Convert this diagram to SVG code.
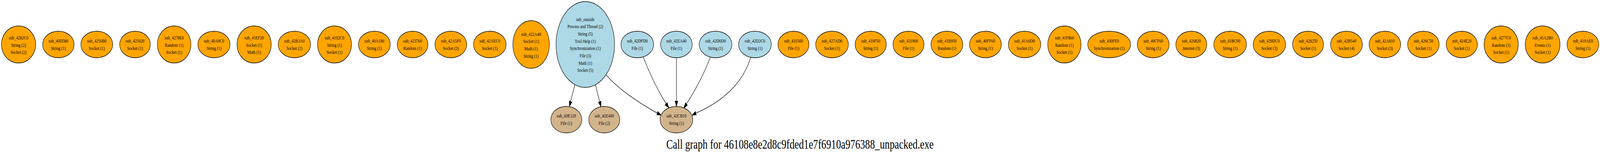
<svg xmlns="http://www.w3.org/2000/svg" width="5522" height="405" viewBox="0 0 5522 405" preserveAspectRatio="none">
<style>
svg{width:100vw;height:405px}
.n ellipse{stroke:#000;stroke-width:1.4}
.o ellipse{fill:#ffa500}
.b ellipse{fill:#add8e6}
.t ellipse{fill:#d2b48c}
text{font-family:"Liberation Serif","Times New Roman",serif;font-size:13.33px;font-style:normal;text-anchor:middle;fill:#000}
.title{font-size:34px}
#edges path{fill:none;stroke:#000;stroke-width:1.4}
#edges polygon{fill:#000;stroke:#000;stroke-width:1.4}
</style>
<rect x="0" y="0" width="5522" height="405" fill="#fff"/>
<g id="edges">
<path d="M1984,217 L1969.3,260.4"/><polygon points="1965,273 1973.7,261.9 1964.9,258.9"/>
<path d="M2055,217 L2069.7,260.9"/><polygon points="2074,273 2074.2,259.4 2065.3,262.4"/>
<path d="M2092,192 C2138,231.4 2213.2,267.2 2268.7,290"/><polygon points="2281,295 2266.9,294.3 2270.5,285.7"/>
<path d="M2220,146 C2240,185 2265,225 2299,266.2"/><polygon points="2308,276 2302.4,263 2295.6,269.4"/>
<path d="M2334.5,148.5 L2334.5,259.4"/><polygon points="2334.5,272.7 2339.2,259.4 2329.8,259.4"/>
<path d="M2452,146 C2432,185 2405,225 2369,266.6"/><polygon points="2360,277 2372.4,269.8 2365.6,263.4"/>
<path d="M2591,147 C2565,210 2500,258 2401.4,290.1"/><polygon points="2389,295 2403.1,294.4 2399.7,285.8"/>
</g>
<g id="sub_4282C0" class="n o"><ellipse cx="64" cy="114" rx="59" ry="47.5"/><text x="64" y="101">sub_4282C0</text><text x="64" y="119.7">String (2)</text><text x="64" y="138.4">Socket (2)</text></g>
<g id="sub_40D580" class="n o"><ellipse cx="201.5" cy="114" rx="54.5" ry="34"/><text x="201.5" y="109.5">sub_40D580</text><text x="201.5" y="128.2">String (1)</text></g>
<g id="sub_4256B0" class="n o"><ellipse cx="334" cy="114" rx="55" ry="34"/><text x="334" y="109.5">sub_4256B0</text><text x="334" y="128.2">Socket (1)</text></g>
<g id="sub_425020" class="n o"><ellipse cx="466" cy="114" rx="53" ry="34"/><text x="466" y="109.5">sub_425020</text><text x="466" y="128.2">Socket (1)</text></g>
<g id="sub_4270E0" class="n o"><ellipse cx="601" cy="114" rx="58" ry="47.5"/><text x="601" y="101">sub_4270E0</text><text x="601" y="119.7">Random (1)</text><text x="601" y="138.4">Socket (1)</text></g>
<g id="sub_40A0C0" class="n o"><ellipse cx="738.5" cy="114" rx="55.5" ry="34"/><text x="738.5" y="109.5">sub_40A0C0</text><text x="738.5" y="128.2">String (1)</text></g>
<g id="sub_41EF30" class="n o"><ellipse cx="877" cy="114" rx="59" ry="47.5"/><text x="877" y="101">sub_41EF30</text><text x="877" y="119.7">Socket (1)</text><text x="877" y="138.4">Math (1)</text></g>
<g id="sub_42B3A0" class="n o"><ellipse cx="1016" cy="114" rx="56" ry="34"/><text x="1016" y="109.5">sub_42B3A0</text><text x="1016" y="128.2">Socket (2)</text></g>
<g id="sub_4192C0" class="n o"><ellipse cx="1154.5" cy="114" rx="58.5" ry="47.5"/><text x="1154.5" y="101">sub_4192C0</text><text x="1154.5" y="119.7">String (1)</text><text x="1154.5" y="138.4">Socket (1)</text></g>
<g id="sub_40A180" class="n o"><ellipse cx="1292" cy="114" rx="55" ry="34"/><text x="1292" y="109.5">sub_40A180</text><text x="1292" y="128.2">String (1)</text></g>
<g id="sub_423760" class="n o"><ellipse cx="1424" cy="114" rx="53" ry="34"/><text x="1424" y="109.5">sub_423760</text><text x="1424" y="128.2">Random (1)</text></g>
<g id="sub_42A5F0" class="n o"><ellipse cx="1556" cy="114" rx="55" ry="34"/><text x="1556" y="109.5">sub_42A5F0</text><text x="1556" y="128.2">Socket (3)</text></g>
<g id="sub_42AEC0" class="n o"><ellipse cx="1690.5" cy="114" rx="56.5" ry="34"/><text x="1690.5" y="109.5">sub_42AEC0</text><text x="1690.5" y="128.2">Socket (1)</text></g>
<g id="sub_422A40" class="n o"><ellipse cx="1833" cy="114" rx="63" ry="61"/><text x="1833" y="91.7">sub_422A40</text><text x="1833" y="110.4">Socket (1)</text><text x="1833" y="129">Math (1)</text><text x="1833" y="147.7">String (1)</text></g>
<g id="sub_outside" class="n b"><ellipse cx="2020" cy="114" rx="101" ry="110"/><text x="2020" y="53.6">sub_outside</text><text x="2020" y="72.3">Process and Thread (2)</text><text x="2020" y="91">String (5)</text><text x="2020" y="109.6">Tool Help (1)</text><text x="2020" y="128.3">Synchronization (1)</text><text x="2020" y="147">File (3)</text><text x="2020" y="165.7">Math (1)</text><text x="2020" y="184.4">Socket (5)</text></g>
<g id="sub_42DFD0" class="n b"><ellipse cx="2199.5" cy="114" rx="56.5" ry="34"/><text x="2199.5" y="109.5">sub_42DFD0</text><text x="2199.5" y="128.2">File (1)</text></g>
<g id="sub_42EA40" class="n b"><ellipse cx="2334.5" cy="114" rx="54.5" ry="34"/><text x="2334.5" y="109.5">sub_42EA40</text><text x="2334.5" y="128.2">File (1)</text></g>
<g id="sub_42D0D0" class="n b"><ellipse cx="2469.5" cy="114" rx="56.5" ry="34"/><text x="2469.5" y="109.5">sub_42D0D0</text><text x="2469.5" y="128.2">String (1)</text></g>
<g id="sub_42D2C0" class="n b"><ellipse cx="2605.5" cy="114" rx="56.5" ry="34"/><text x="2605.5" y="109.5">sub_42D2C0</text><text x="2605.5" y="128.2">String (1)</text></g>
<g id="sub_431560" class="n o"><ellipse cx="2738.5" cy="114" rx="53.5" ry="34"/><text x="2738.5" y="109.5">sub_431560</text><text x="2738.5" y="128.2">File (1)</text></g>
<g id="sub_427AD0" class="n o"><ellipse cx="2871.5" cy="114" rx="56.5" ry="34"/><text x="2871.5" y="109.5">sub_427AD0</text><text x="2871.5" y="128.2">Socket (1)</text></g>
<g id="sub_419F50" class="n o"><ellipse cx="3005" cy="114" rx="54" ry="34"/><text x="3005" y="109.5">sub_419F50</text><text x="3005" y="128.2">String (1)</text></g>
<g id="sub_431900" class="n o"><ellipse cx="3135.5" cy="114" rx="53.5" ry="34"/><text x="3135.5" y="109.5">sub_431900</text><text x="3135.5" y="128.2">File (1)</text></g>
<g id="sub_41B950" class="n o"><ellipse cx="3268" cy="114" rx="55" ry="34"/><text x="3268" y="109.5">sub_41B950</text><text x="3268" y="128.2">Random (1)</text></g>
<g id="sub_40FF60" class="n o"><ellipse cx="3401" cy="114" rx="55" ry="34"/><text x="3401" y="109.5">sub_40FF60</text><text x="3401" y="128.2">String (1)</text></g>
<g id="sub_41A6D0" class="n o"><ellipse cx="3536" cy="114" rx="56" ry="34"/><text x="3536" y="109.5">sub_41A6D0</text><text x="3536" y="128.2">Socket (1)</text></g>
<g id="sub_41F860" class="n o"><ellipse cx="3673.5" cy="114" rx="57.5" ry="47.5"/><text x="3673.5" y="101">sub_41F860</text><text x="3673.5" y="119.7">Random (1)</text><text x="3673.5" y="138.4">Socket (1)</text></g>
<g id="sub_430FE0" class="n o"><ellipse cx="3828" cy="114" rx="74" ry="34"/><text x="3828" y="109.5">sub_430FE0</text><text x="3828" y="128.2">Synchronization (1)</text></g>
<g id="sub_40CF60" class="n o"><ellipse cx="3980" cy="114" rx="55" ry="34"/><text x="3980" y="109.5">sub_40CF60</text><text x="3980" y="128.2">String (1)</text></g>
<g id="sub_426820" class="n o"><ellipse cx="4111.5" cy="114" rx="53.5" ry="34"/><text x="4111.5" y="109.5">sub_426820</text><text x="4111.5" y="128.2">Internet (3)</text></g>
<g id="sub_41BC90" class="n o"><ellipse cx="4245.5" cy="114" rx="56.5" ry="34"/><text x="4245.5" y="109.5">sub_41BC90</text><text x="4245.5" y="128.2">String (1)</text></g>
<g id="sub_429DC0" class="n o"><ellipse cx="4381" cy="114" rx="56" ry="34"/><text x="4381" y="109.5">sub_429DC0</text><text x="4381" y="128.2">Socket (3)</text></g>
<g id="sub_428250" class="n o"><ellipse cx="4514.5" cy="114" rx="53.5" ry="34"/><text x="4514.5" y="109.5">sub_428250</text><text x="4514.5" y="128.2">Socket (1)</text></g>
<g id="sub_42B540" class="n o"><ellipse cx="4647" cy="114" rx="55" ry="34"/><text x="4647" y="109.5">sub_42B540</text><text x="4647" y="128.2">Socket (4)</text></g>
<g id="sub_42A810" class="n o"><ellipse cx="4779.5" cy="114" rx="54.5" ry="34"/><text x="4779.5" y="109.5">sub_42A810</text><text x="4779.5" y="128.2">Socket (3)</text></g>
<g id="sub_426C50" class="n o"><ellipse cx="4912.5" cy="114" rx="54.5" ry="34"/><text x="4912.5" y="109.5">sub_426C50</text><text x="4912.5" y="128.2">Socket (1)</text></g>
<g id="sub_424E20" class="n o"><ellipse cx="5045" cy="114" rx="54" ry="34"/><text x="5045" y="109.5">sub_424E20</text><text x="5045" y="128.2">Socket (1)</text></g>
<g id="sub_4277C0" class="n o"><ellipse cx="5181" cy="114" rx="59" ry="47.5"/><text x="5181" y="101">sub_4277C0</text><text x="5181" y="119.7">Random (1)</text><text x="5181" y="138.4">Socket (1)</text></g>
<g id="sub_41A2B0" class="n o"><ellipse cx="5324" cy="114" rx="60" ry="47.5"/><text x="5324" y="101">sub_41A2B0</text><text x="5324" y="119.7">Events (1)</text><text x="5324" y="138.4">Socket (1)</text></g>
<g id="sub_419AE0" class="n o"><ellipse cx="5463" cy="114" rx="55" ry="34"/><text x="5463" y="109.5">sub_419AE0</text><text x="5463" y="128.2">String (1)</text></g>
<g id="sub_60E129" class="n t"><ellipse cx="1954.5" cy="306.7" rx="53.5" ry="34"/><text x="1954.5" y="301.2">sub_60E129</text><text x="1954.5" y="320">File (1)</text></g>
<g id="sub_42E400" class="n t"><ellipse cx="2085.5" cy="306.7" rx="53.5" ry="34"/><text x="2085.5" y="301.2">sub_42E400</text><text x="2085.5" y="320">File (2)</text></g>
<g id="sub_42CB10" class="n t"><ellipse cx="2334.5" cy="306.7" rx="56.5" ry="34"/><text x="2334.5" y="301.2">sub_42CB10</text><text x="2334.5" y="320">String (1)</text></g>
<text class="title" x="2761" y="381">Call graph for 46108e8e2d8c9fded1e7f6910a976388_unpacked.exe</text>
</svg>
